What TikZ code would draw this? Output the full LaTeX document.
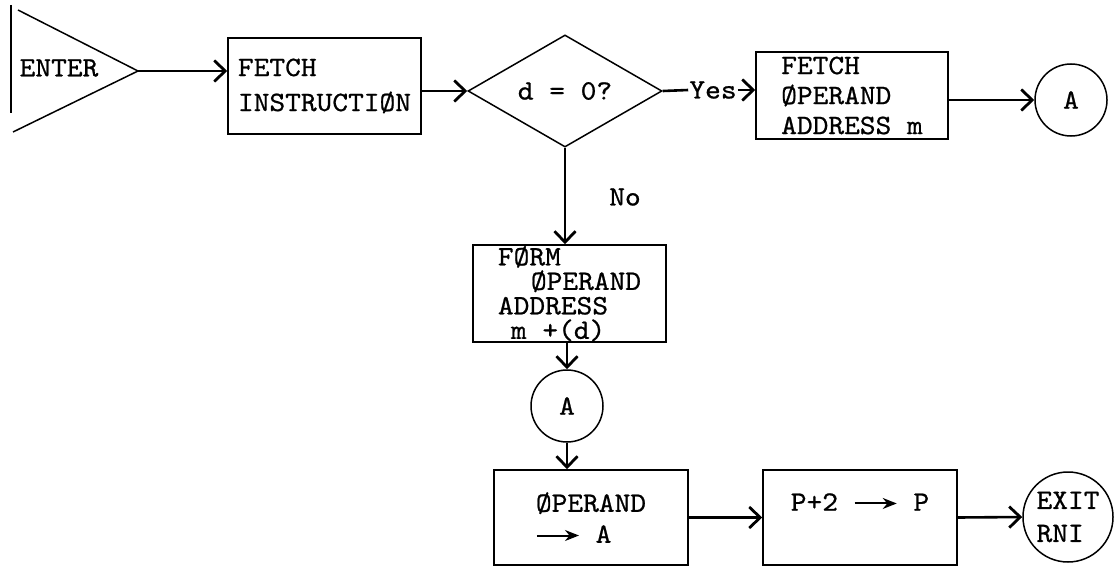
\documentclass[tikz,border=0pt]{standalone}
\usepackage{fontspec}
\setmonofont[FakeStretch=1.07, FakeBold=0.8]{lmmono10-regular.otf}
\usetikzlibrary{arrows.meta, shapes.geometric, positioning}
\newcommand{\arrowsym}{\tikz[baseline=-0.6ex]\draw[line width=2pt,
  -{Stealth[length=14pt, width=11pt]}] (0pt,0pt) -- (42pt,0pt);}

\begin{document}
\begin{tikzpicture}[x=1pt, y=-1pt,
  txt/.style={font=\ttfamily\fontsize{28}{#1}\selectfont},
  txt/.default=31,
  lbl/.style={txt, inner sep=1pt},
  blk/.style={txt, draw=black, line width=1.5pt, inner sep=0pt, align=left},
  dec/.style={txt, diamond, draw=black, line width=1.5pt, inner sep=0pt,
              minimum width=194pt, minimum height=96pt},
  con/.style={txt, circle, draw=black, line width=1.5pt, inner sep=0pt,
              minimum size=72pt},
  arr/.style={line width=2.6pt, -{Straight Barb[length=11pt, width=21pt, line width=2.8pt]}}]
  \useasboundingbox (0,0) rectangle (1115,567);
  % entry
  \draw[line width=1.5pt] (11,5) -- (11,113);
  \draw[line width=1.5pt] (18,10) -- (138,71) -- (13,132);
  \coordinate (enter) at (138,71);
  \node[lbl] (entr) at (59,68) {ENTER};
  % top row
  \node[blk, txt=35, minimum width=193pt, minimum height=96pt] (fi) at (324.5,86)
    {FETCH\\INSTRUCTIØN};
  \node[dec] (dia) at (565,91) {d = 0?};
  \node[lbl] (yes) at (713,90) {Yes};
  \node[blk, txt=30, minimum width=192pt, minimum height=87pt] (fop) at (852,95.5)
    {FETCH\\ØPERAND\\ADDRESS m};
  \node[con] (a1) at (1071,100) {A};
  % middle column
  \node[lbl] (no) at (625,197) {No};
  \node[blk, txt=24.5, minimum width=193pt, minimum height=97pt] (form) at (569.5,293.5)
    {FØRM\\\hspace*{33pt}ØPERAND\\ADDRESS\\\hspace*{13pt}m +(d)};
  \node[con] (a2) at (567,406) {A};
  % bottom row
  \node[blk, minimum width=194pt, minimum height=95pt] (op) at (591,517.5)
    {ØPERAND\\\arrowsym\ A};
  \node[blk, minimum width=194pt, minimum height=95pt] (pp) at (860,517.5)
    {P+2 \arrowsym\ P\\\mbox{}};
  \node[con, txt=33, align=left, minimum size=90pt] (ex) at (1068,517) {EXIT\\RNI};
  % connectors
  \draw[arr] (enter) -- (fi.west |- enter);
  \draw[arr] (fi.east |- dia) -- (dia.west);
  \draw[line width=2.6pt] (dia.east) -- (yes.west);
  \draw[arr] (yes.east) -- (fop.west |- yes);
  \draw[arr] (fop.east |- a1) -- (a1);
  \draw[arr] (dia.south) -- (dia.south |- form.north);
  \draw[arr] (a2 |- form.south) -- (a2.north);
  \draw[arr] (a2.south) -- (a2 |- op.north);
  \draw[arr] (op.east |- pp) -- (pp.west);
  \draw[arr] (pp.east) -- (ex.west);
\end{tikzpicture}
\end{document}
